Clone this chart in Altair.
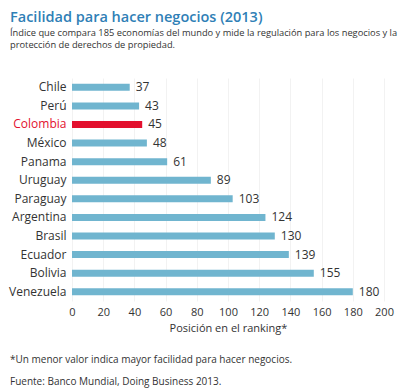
import altair as alt
import pandas as pd

countries = ["Chile", "Perú", "Colombia", "México", "Panama", "Uruguay", "Paraguay",
             "Argentina", "Brasil", "Ecuador", "Bolivia", "Venezuela"]
ranking = [37, 43, 45, 48, 61, 89, 103, 124, 130, 139, 155, 180]
highlight = "Colombia"
x_ticks = [0, 20, 40, 60, 80, 100, 120, 140, 160, 180, 200]

title_text = "Facilidad para hacer negocios (2013)"
subtitle_lines = ["Índice que compara 185 economías del mundo y mide la regulación para los negocios y la",
                  "protección de derechos de propiedad."]
foot1 = "*Un menor valor indica mayor facilidad para hacer negocios."
foot2 = "Fuente: Banco Mundial, Doing Business 2013."

df = pd.DataFrame({"pais": countries, "valor": ranking})
df["destacado"] = df["pais"] == highlight

FONT = "Open Sans"
BLUE = "#70b5cf"
RED = "#e3102e"
TXT = "#333333"

y_enc = alt.Y("pais:N", sort=countries, title=None,
              scale=alt.Scale(paddingInner=0, paddingOuter=0),
              axis=alt.Axis(domain=False, ticks=False, labelFontSize=12, labelPadding=6,
                            labelFont=FONT,
                            labelColor=alt.condition(f"datum.value == '{highlight}'",
                                                     alt.value(RED), alt.value(TXT))))
x_axis = alt.Axis(values=x_ticks, domain=False, ticks=False, labelFontSize=11,
                  labelColor=TXT, labelFont=FONT, labelPadding=5,
                  labelOverlap=False, labelFlush=False,
                  gridColor="#f2f2f2", titleFontSize=11, titleFontWeight="normal",
                  titleColor=TXT, titleFont=FONT, titlePadding=5)
x_scale = alt.Scale(domain=[0, 200], nice=False)
x_enc = alt.X("valor:Q", scale=x_scale, title="Posición en el ranking*", axis=x_axis)

base = alt.Chart(df)
bars = base.mark_bar(size=7).encode(
    y=y_enc, x=x_enc,
    color=alt.condition("datum.destacado", alt.value(RED), alt.value(BLUE)),
)
labels = base.mark_text(align="left", baseline="middle", dx=6, fontSize=12,
                        font=FONT, color=TXT).encode(
    y=y_enc, x=x_enc, text="valor:Q")

one = alt.Data(values=[{}])
f1 = alt.Chart(one).mark_text(align="left", baseline="middle", fontSize=10, font=FONT,
                              color=TXT).encode(x=alt.value(-62), y=alt.value(282),
                                                text=alt.value(foot1))
f2 = alt.Chart(one).mark_text(align="left", baseline="middle", fontSize=10, font=FONT,
                              color=TXT).encode(x=alt.value(-62), y=alt.value(304),
                                                text=alt.value(foot2))

chart = alt.layer(bars, labels, f1, f2).properties(
    width=312, height=223,
    autosize=alt.AutoSizeParams(type="none"),
    padding={"left": 64, "top": 70, "right": 28, "bottom": 87},
    title=alt.TitleParams(title_text, subtitle=subtitle_lines, anchor="start",
                          frame="group", dx=-62, offset=27, font=FONT, fontSize=14.5,
                          fontWeight=600, color="#2f80b6", subtitleFont=FONT,
                          subtitleFontSize=9.3, subtitleColor=TXT, subtitlePadding=3,
                          subtitleLineHeight=12),
).configure_view(stroke=None).configure_axisX(labelOverlap=False)

chart.save("out.html", embed_options={"renderer": "svg", "actions": False})
